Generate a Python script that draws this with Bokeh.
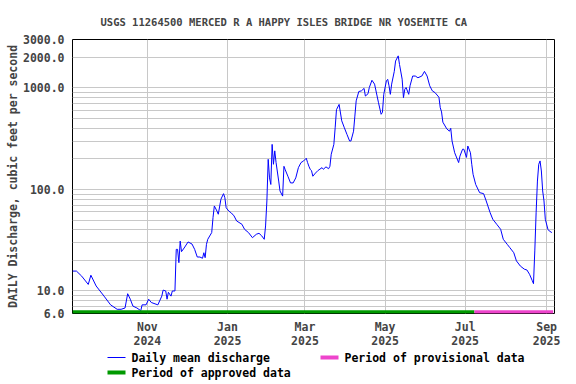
import pandas as pd
from bokeh.plotting import figure
from bokeh.layouts import column
from bokeh.models import Range1d, FixedTicker, PrintfTickFormatter
from bokeh.core.properties import value
from bokeh.embed import file_html
from bokeh.resources import INLINE

title_text = "USGS 11264500 MERCED R A HAPPY ISLES BRIDGE NR YOSEMITE CA"
y_label = "DAILY Discharge, cubic feet per second"

flow_dates = [
    "2024-09-05", "2024-09-08", "2024-09-12", "2024-09-17", "2024-09-19", "2024-09-23", "2024-09-29",
    "2024-10-04", "2024-10-09", "2024-10-12", "2024-10-15", "2024-10-17", "2024-10-19", "2024-10-21",
    "2024-10-24", "2024-10-27", "2024-10-28", "2024-10-31",
    "2024-11-02", "2024-11-04", "2024-11-09", "2024-11-12", "2024-11-13", "2024-11-15", "2024-11-16",
    "2024-11-17", "2024-11-19", "2024-11-20", "2024-11-22", "2024-11-23", "2024-11-24", "2024-11-25",
    "2024-11-26", "2024-11-27", "2024-11-29",
    "2024-12-02", "2024-12-05", "2024-12-07", "2024-12-09", "2024-12-11", "2024-12-13", "2024-12-14",
    "2024-12-15", "2024-12-16", "2024-12-17", "2024-12-20", "2024-12-21", "2024-12-22", "2024-12-24",
    "2024-12-25", "2024-12-27", "2024-12-29", "2024-12-30", "2024-12-31",
    "2025-01-02", "2025-01-04", "2025-01-06", "2025-01-08", "2025-01-12", "2025-01-14", "2025-01-17",
    "2025-01-20", "2025-01-23", "2025-01-25", "2025-01-27", "2025-01-29", "2025-01-30", "2025-01-31",
    "2025-02-01", "2025-02-02", "2025-02-03", "2025-02-04", "2025-02-05", "2025-02-06", "2025-02-07",
    "2025-02-09", "2025-02-10", "2025-02-12", "2025-02-13", "2025-02-14", "2025-02-16", "2025-02-18",
    "2025-02-20", "2025-02-22", "2025-02-24", "2025-02-26", "2025-02-28",
    "2025-03-02", "2025-03-03", "2025-03-04", "2025-03-05", "2025-03-06", "2025-03-07", "2025-03-09",
    "2025-03-11", "2025-03-14", "2025-03-15", "2025-03-17", "2025-03-19", "2025-03-20", "2025-03-21",
    "2025-03-23", "2025-03-24", "2025-03-25", "2025-03-27", "2025-03-29", "2025-03-31",
    "2025-04-02", "2025-04-04", "2025-04-05", "2025-04-07", "2025-04-08", "2025-04-09", "2025-04-11",
    "2025-04-13", "2025-04-15", "2025-04-16", "2025-04-18", "2025-04-19", "2025-04-21", "2025-04-23",
    "2025-04-26", "2025-04-28", "2025-04-29", "2025-04-30",
    "2025-05-02", "2025-05-03", "2025-05-04", "2025-05-05", "2025-05-06", "2025-05-08", "2025-05-09",
    "2025-05-11", "2025-05-12", "2025-05-14", "2025-05-15", "2025-05-16", "2025-05-17", "2025-05-19",
    "2025-05-20", "2025-05-22", "2025-05-24", "2025-05-26", "2025-05-29", "2025-05-31",
    "2025-06-02", "2025-06-04", "2025-06-06", "2025-06-08", "2025-06-11", "2025-06-12", "2025-06-13",
    "2025-06-14", "2025-06-17", "2025-06-19", "2025-06-20", "2025-06-21", "2025-06-23", "2025-06-26",
    "2025-06-27", "2025-06-29", "2025-06-30",
    "2025-07-02", "2025-07-03", "2025-07-05", "2025-07-06", "2025-07-07", "2025-07-09", "2025-07-12",
    "2025-07-15", "2025-07-17", "2025-07-20", "2025-07-22", "2025-07-25", "2025-07-28", "2025-07-30",
    "2025-08-02", "2025-08-04", "2025-08-07", "2025-08-09", "2025-08-12", "2025-08-15", "2025-08-17",
    "2025-08-19", "2025-08-21", "2025-08-22", "2025-08-23", "2025-08-24", "2025-08-25", "2025-08-26",
    "2025-08-27", "2025-08-28", "2025-08-29", "2025-08-30", "2025-08-31",
    "2025-09-02", "2025-09-03", "2025-09-05",
]
flow_cfs = [
    15.7, 15.7, 14.0, 11.6, 14.3, 11.2, 8.9,
    7.3, 6.6, 6.6, 6.8, 9.4, 8.3, 7.1,
    6.8, 6.4, 7.3, 7.3,
    8.3, 7.7, 7.3, 8.9, 10.2, 10.0, 8.3,
    9.7, 8.9, 10.0, 10.0, 25.7, 25.7, 19.0,
    31.0, 24.4, 26.5,
    30.4, 29.0, 25.7, 21.6, 21.6, 21.0, 23.8,
    21.3, 28.8, 32.3, 37.6, 52.9, 68.8, 61.3,
    57.0, 80.1, 90.9, 83.0, 66.0,
    61.3, 58.6, 54.9, 48.9, 45.4, 40.5, 37.6,
    33.5, 36.2, 37.0, 35.0, 32.3, 43.7, 77.0,
    198, 130, 112, 278, 177, 240, 184,
    121, 96.6, 86, 169, 156, 135, 116,
    116, 130, 164, 184, 191,
    203, 184, 169, 158, 153, 135, 145,
    154, 164, 158, 167, 160, 169, 222,
    278, 405, 611, 688, 474, 405,
    348, 300, 300, 375, 528, 746, 922,
    936, 990, 832, 877, 1010, 1190, 1090,
    715, 550, 575, 865,
    1175, 1215, 1050, 865, 1090, 1455, 1840,
    2070, 1700, 1220, 802, 970, 1010, 865,
    1050, 1310, 1310, 1260, 1310, 1455,
    1310, 1050, 935, 900, 810, 640, 580,
    460, 395, 375, 400, 300, 230, 184,
    213, 249, 249,
    207, 268, 230, 177, 141, 112, 93,
    91, 77, 59, 50.9, 45.4, 40.5, 32.3,
    28.8, 26.7, 23.8, 19.8, 17.6, 16.4, 16.1,
    14.6, 12.7, 11.8, 24.8, 59, 121, 177,
    191, 152, 96.6, 77, 50.9,
    40.5, 39.0, 37.6,
]

approved_period = ["2024-09-05", "2025-07-08"]
provisional_period = ["2025-07-08", "2025-09-06"]

x_tick_dates = ["2024-11-01", "2025-01-01", "2025-03-01", "2025-05-01", "2025-07-01", "2025-09-01"]
x_tick_labels = ["Nov\n2024", "Jan\n2025", "Mar\n2025", "May\n2025", "Jul\n2025", "Sep\n2025"]
y_major_ticks = [6, 10, 100, 1000, 2000, 3000]
y_minor_ticks = [7, 8, 9, 20, 30, 40, 50, 60, 70, 80, 90,
                 200, 300, 400, 500, 600, 700, 800, 900]

legend_labels = ["Daily mean discharge", "Period of approved data", "Period of provisional data"]

FONT = "DejaVu Sans Mono"
GRID = "#c8c8c8"
FLOW_COLOR = "#0000ff"
APPROVED_COLOR = "#009900"
PROVISIONAL_COLOR = "#ee44cc"
BAR_Y = 6.2

W, H = 576, 384
MAIN_H = 351
LEFT, RIGHT = 72, 22

x_start = pd.Timestamp("2024-09-05")
x_end = pd.Timestamp("2025-09-07")

p = figure(width=W, height=MAIN_H, x_axis_type="datetime", y_axis_type="log",
           x_range=Range1d(x_start, x_end), y_range=Range1d(6, 3000),
           output_backend="svg", toolbar_location=None,
           min_border_left=LEFT, min_border_right=RIGHT, min_border_top=39, min_border_bottom=38)
p.background_fill_color = "white"
p.border_fill_color = "white"
p.outline_line_color = "black"
p.outline_line_width = 1
p.outline_line_alpha = 1.0

p.title.text = title_text
p.title.text_font = FONT
p.title.text_font_size = "10.5px"
p.title.text_font_style = "bold"
p.title.align = "left"
p.title.offset = 28
p.title.standoff = 24

# y axis
yt = FixedTicker(ticks=y_major_ticks, minor_ticks=y_minor_ticks)
ya = p.yaxis[0]
ya.ticker = yt
ya.formatter = PrintfTickFormatter(format="%.1f")
ya.axis_label = y_label
ya.axis_label_text_font = FONT
ya.axis_label_text_font_style = "bold"
ya.axis_label_text_font_size = "11.5px"
ya.axis_label_standoff = 0
ya.major_label_text_font = FONT
ya.major_label_text_font_style = "bold"
ya.major_label_text_font_size = "11.5px"
ya.major_label_standoff = 8
ya.axis_line_color = None
ya.major_tick_out = 0
ya.major_tick_in = 0
ya.minor_tick_out = 0
ya.minor_tick_in = 0
p.ygrid.ticker = yt
p.ygrid.grid_line_color = GRID
p.ygrid.minor_grid_line_color = GRID

# x axis
xt_ms = [float(pd.Timestamp(d).value // 10**6) for d in x_tick_dates]
xticker = FixedTicker(ticks=xt_ms, minor_ticks=[])
xa = p.xaxis[0]
xa.ticker = xticker
xa.major_label_overrides = dict(zip(xt_ms, x_tick_labels))
xa.major_label_text_font = FONT
xa.major_label_text_font_style = "bold"
xa.major_label_text_font_size = "11.5px"
xa.major_label_text_line_height = 1.0
xa.major_label_standoff = 6
xa.axis_line_color = None
xa.major_tick_out = 0
xa.major_tick_in = 0
xa.minor_tick_out = 0
xa.minor_tick_in = 0
p.xgrid.ticker = xticker
p.xgrid.grid_line_color = GRID

flow_x = pd.to_datetime(flow_dates)
p.line(flow_x, flow_cfs, line_color=FLOW_COLOR, line_width=1)
p.line(pd.to_datetime(approved_period), [BAR_Y, BAR_Y], line_color=APPROVED_COLOR, line_width=3.5)
p.line(pd.to_datetime(provisional_period), [BAR_Y, BAR_Y], line_color=PROVISIONAL_COLOR, line_width=3.5)

# legend panel: its ranges are set so that units equal page pixels
lg = figure(width=W, height=H - MAIN_H, x_range=Range1d(LEFT, W - RIGHT), y_range=Range1d(H, MAIN_H),
            output_backend="svg", toolbar_location=None,
            x_axis_location=None, y_axis_location=None,
            min_border_left=LEFT, min_border_right=RIGHT, min_border_top=0, min_border_bottom=0)
lg.grid.visible = False
lg.outline_line_color = None
lg.background_fill_color = "white"
lg.border_fill_color = "white"

swatch_x0 = [107, 107, 320]
swatch_x1 = [125, 125, 338]
swatch_y = [357, 372, 357]
swatch_w = [1, 4, 4]
swatch_c = [FLOW_COLOR, APPROVED_COLOR, PROVISIONAL_COLOR]
for x0, x1, y, w, c in zip(swatch_x0, swatch_x1, swatch_y, swatch_w, swatch_c):
    lg.line([x0, x1], [y, y], line_color=c, line_width=w)
lg.text(x=[x + 6 for x in swatch_x1], y=swatch_y, text=legend_labels,
        text_font=value(FONT), text_font_style="bold", text_font_size="11.5px",
        text_baseline="middle", text_align="left", text_color="black")

layout = column(p, lg, spacing=0)
open("out.html", "w").write(file_html(layout, INLINE))
